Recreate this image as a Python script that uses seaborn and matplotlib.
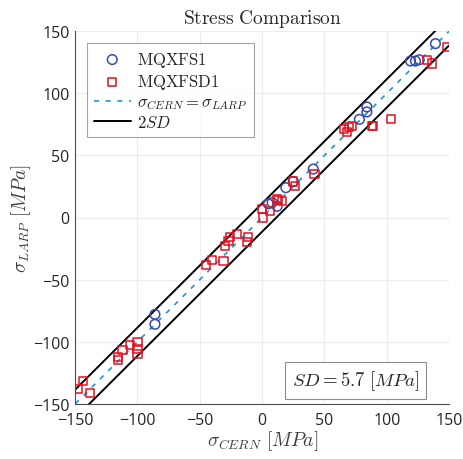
import numpy as np
import pandas as pd
import matplotlib
matplotlib.use('Agg')
import matplotlib.pyplot as plt
import seaborn as sns

# 数据
s1_cern = [139, 119, 123, 126, 84, 84, 78, 41, 25, 19, 8, 12, 5, -86, -86]
s1_larp = [140, 126, 126, 127, 89, 85, 79, 39, 29, 24, 12, 9, 11, -78, -86]

sd1_cern = [148, 136, 132, 103, 89, 88, 72, 66, 68, 70, 42, 25, 26, 12, 16, 13,
            0, 6, 1, -20, -26, -27, -30, -11, -12, -40, -45, -31,
            -100, -106, -100, -100, -112, -116, -116, -144, -148, -138]
sd1_larp = [137, 124, 127, 79, 74, 74, 74, 71, 69, 73, 35, 29, 25, 15, 13, 14,
            7, 5, 0, -13, -16, -19, -23, -16, -20, -34, -38, -35,
            -100, -103, -106, -110, -107, -112, -115, -132, -138, -141]

ref_x = [-150, 150]
sd = 5.7

df1 = pd.DataFrame({'x': s1_cern, 'y': s1_larp})
df2 = pd.DataFrame({'x': sd1_cern, 'y': sd1_larp})
band = pd.DataFrame({'x': ref_x, 'up': np.array(ref_x) + 2 * sd, 'lo': np.array(ref_x) - 2 * sd})

sns.set_style('white')
plt.rcParams['mathtext.fontset'] = 'cm'
plt.rcParams['font.family'] = ['Open Sans', 'DejaVu Sans']

fig, ax = plt.subplots(figsize=(4.64, 4.60), dpi=100)
fig.subplots_adjust(left=0.162, right=0.968, top=0.930, bottom=0.120)

sns.scatterplot(data=df1, x='x', y='y', ax=ax, marker='o', s=48, facecolors='none',
                edgecolor='#3a4aa8', linewidth=1.1, label=r'$\mathrm{MQXFS1}$', zorder=3)
sns.scatterplot(data=df2, x='x', y='y', ax=ax, marker='s', s=34, facecolors='none',
                edgecolor='#e3101f', linewidth=1.1, label=r'$\mathrm{MQXFSD1}$', zorder=3)
sns.lineplot(x=ref_x, y=ref_x, ax=ax, color='#1d96d3', linestyle=(0, (3, 4)), linewidth=1.2,
             label=r'$\sigma_{CERN}=\sigma_{LARP}$', zorder=2)
sns.lineplot(data=band, x='x', y='up', ax=ax, color='black', linewidth=1.4, label=r'$2SD$', zorder=2)
sns.lineplot(data=band, x='x', y='lo', ax=ax, color='black', linewidth=1.4, zorder=2)

ax.set_xlim(-150, 150)
ax.set_ylim(-150, 150)
ax.set_xticks([-150, -100, -50, 0, 50, 100, 150])
ax.set_yticks([-150, -100, -50, 0, 50, 100, 150])
ax.grid(True, color='#ececec', linewidth=0.8)
ax.set_axisbelow(True)
for side in ['top', 'right']:
    ax.spines[side].set_visible(False)
for side in ['left', 'bottom']:
    ax.spines[side].set_color('#4d4d4d')
    ax.spines[side].set_linewidth(0.8)
ax.tick_params(direction='in', length=4, width=0.8, color='#4d4d4d', labelsize=11.5,
               labelcolor='#262626')
ax.tick_params(axis='x', pad=6)
ax.tick_params(axis='y', pad=4)

ax.set_xlabel(r'$\sigma_{CERN}\ [MPa]$', fontsize=14, color='#404040', labelpad=0)
ax.set_ylabel(r'$\sigma_{LARP}\ [MPa]$', fontsize=14, color='#404040', labelpad=0)
ax.set_title(r'$\mathrm{Stress\ Comparison}$', fontsize=14, pad=6)

leg = ax.legend(loc='upper left', bbox_to_anchor=(0.01, 0.99), fontsize=12, frameon=True,
                fancybox=False, edgecolor='#8c8c8c', handlelength=2.2, labelspacing=0.2,
                borderpad=0.4, handletextpad=0.4)
leg.get_frame().set_linewidth(0.8)

ax.text(0.75, 0.063, r'$SD = 5.7\ [MPa]$', transform=ax.transAxes, fontsize=13.5,
        ha='center', va='center',
        bbox=dict(boxstyle='square,pad=0.35', facecolor='white', edgecolor='#8c8c8c', linewidth=0.8))

plt.savefig('out.png', dpi=100)
